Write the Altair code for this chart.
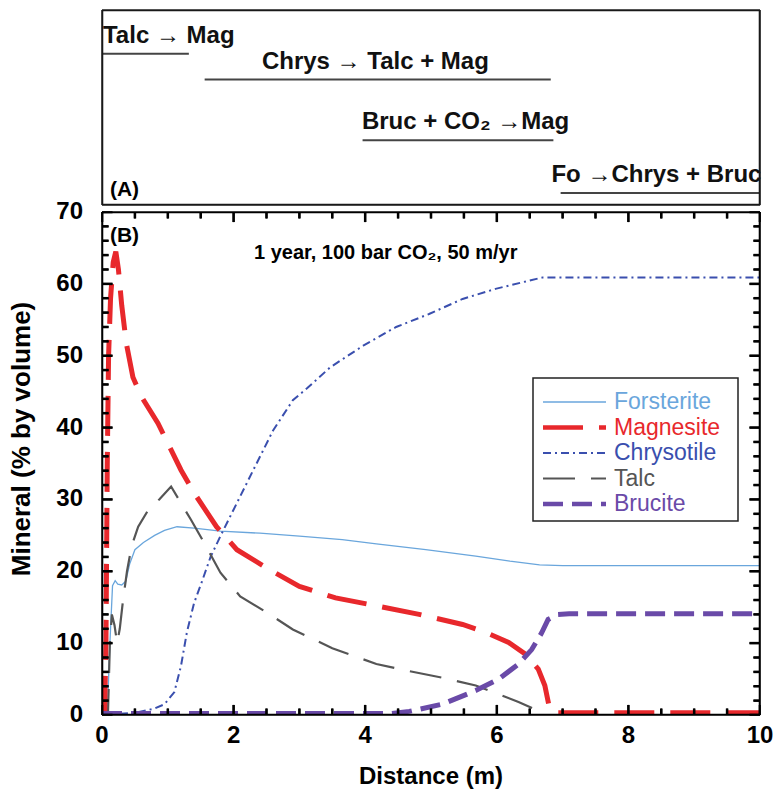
import altair as alt
import pandas as pd
import numpy as np

FONT = "Liberation Sans"

# ---------------- data: panel (B) ----------------
series_names = ["Forsterite", "Magnesite", "Chrysotile", "Talc", "Brucite"]

forsterite_x = [0, 0.08, 0.12, 0.16, 0.2, 0.24, 0.3, 0.36, 0.42, 0.5, 0.63, 0.8, 0.95, 1.14, 1.4,
                1.8, 2.4, 3.0, 3.65, 4.17, 4.92, 5.68, 6.2, 6.65, 7.0, 10]
forsterite_y = [0, 0, 10, 18, 18.7, 18.2, 18.1, 18.6, 21, 23, 24, 25, 25.7, 26.2, 26.0,
                25.6, 25.3, 24.9, 24.4, 23.8, 23.0, 22.1, 21.4, 20.9, 20.8, 20.8]

magnesite_x = [0, 0.04, 0.06, 0.08, 0.1, 0.13, 0.17, 0.21, 0.25, 0.3, 0.37, 0.47, 0.6, 0.85, 1.05,
               1.2, 1.4, 1.74, 2.05, 2.55, 3.0, 3.55, 4.17, 4.82, 5.48, 5.83, 6.18, 6.43, 6.63,
               6.73, 6.8, 6.85, 10]
magnesite_y = [0, 0.5, 10, 35, 50, 58, 63, 64.5, 62, 57, 51.7, 47, 44.3, 40.6, 36.9,
               34.1, 30.9, 26.2, 23.0, 20.2, 17.9, 16.3, 15.2, 14.0, 12.6, 11.5, 10.1, 8.5, 6.4,
               4.1, 1.0, 0.3, 0.3]

chrysotile_x = [0, 0.5, 0.8, 0.95, 1.1, 1.2, 1.29, 1.4, 1.52, 1.65, 1.8, 2.05, 2.3, 2.6, 2.9,
                3.12, 3.47, 3.97, 4.47, 4.97, 5.48, 5.98, 6.47, 6.7, 10]
chrysotile_y = [0, 0.3, 0.9, 1.5, 3.2, 6.8, 11.5, 15.6, 18.6, 22.0, 24.9, 29.5, 34.1, 39.6, 43.8,
                45.5, 48.4, 51.4, 54.0, 55.8, 57.9, 59.3, 60.4, 60.9, 60.9]

talc_x = [0, 0.09, 0.12, 0.15, 0.19, 0.23, 0.27, 0.32, 0.38, 0.45, 0.55, 0.7, 0.87, 1.05, 1.2,
          1.35, 1.55, 1.8, 2.1, 2.5, 2.9, 3.5, 4.17, 4.67, 5.17, 5.68, 6.03, 6.33, 6.63, 6.75, 10]
talc_y = [0, 0, 10, 14, 12.5, 10, 12, 16, 20, 23.5, 26.2, 28.5, 30, 31.8, 29.5,
          27.2, 24, 19.8, 16.5, 14.3, 11.9, 9.3, 7.1, 6.1, 5.2, 4.1, 2.9, 1.8, 0.6, 0, 0]

brucite_x = [0, 4.4, 4.67, 5.17, 5.68, 6.03, 6.33, 6.53, 6.68, 6.78, 6.93, 7.1, 10]
brucite_y = [0.2, 0.2, 0.5, 1.5, 3.4, 5.0, 7.1, 9.1, 11.4, 13.3, 14.0, 14.1, 14.1]

x_tick_values = [0, 0.5, 1, 1.5, 2, 2.5, 3, 3.5, 4, 4.5, 5, 5.5, 6, 6.5, 7, 7.5, 8, 8.5, 9, 9.5, 10]
y_tick_values = [0, 2, 4, 6, 8, 10, 12, 14, 16, 18, 20, 22, 24, 26, 28, 30, 32, 34, 36, 38, 40,
                 42, 44, 46, 48, 50, 52, 54, 56, 58, 60, 62, 64, 66, 68, 70]
x_label_values = [0, 2, 4, 6, 8, 10]
y_label_values = [0, 10, 20, 30, 40, 50, 60, 70]
x_domain = [0, 10]
y_domain = [0, 70]
x_title = "Distance (m)"
y_title = "Mineral (% by volume)"

# ---------------- data: panel (A) ----------------
reaction_labels = ["Talc → Mag", "Chrys → Talc + Mag", "Bruc + CO₂ →Mag", "Fo →Chrys + Bruc"]
reaction_start = [0.0, 1.56, 3.96, 6.97]
reaction_end = [1.32, 6.82, 6.86, 10.0]
reaction_row = [0.776, 0.643, 0.332, 0.061]
reaction_text_x = [0.015, 2.43, 3.95, 6.83]
top_y_domain = [0, 1]

# ---------------- styles ----------------
colors = {"Forsterite": "#6aa6dc", "Magnesite": "#e8282c", "Chrysotile": "#3a4fae",
          "Talc": "#555555", "Brucite": "#6a4aa8"}
widths = {"Forsterite": 1.3, "Magnesite": 5, "Chrysotile": 2, "Talc": 2.2, "Brucite": 5}
dashes = {"Forsterite": None, "Magnesite": [40, 16], "Chrysotile": [8, 4, 2, 4],
          "Talc": [32, 16], "Brucite": [20, 9]}

series_xy = {
    "Forsterite": (forsterite_x, forsterite_y),
    "Magnesite": (magnesite_x, magnesite_y),
    "Chrysotile": (chrysotile_x, chrysotile_y),
    "Talc": (talc_x, talc_y),
    "Brucite": (brucite_x, brucite_y),
}

W, H_TOP, H_BOT = 658, 195, 503


def segment_layers(segs, xscale, yscale, color, width):
    """segs: list of (x0, y0, x1, y1) in data units -> clipped line segments + rules."""
    long_rows, wide_rows = [], []
    for j, (x0, y0, x1, y1) in enumerate(segs):
        long_rows.append({"seg": j, "k": 0, "x": x0, "y": y0})
        long_rows.append({"seg": j, "k": 1, "x": x1, "y": y1})
        wide_rows.append({"x": x0, "xe": x1, "y": y0, "ye": y1})
    lines = alt.Chart(pd.DataFrame(long_rows)).mark_line(
        color=color, strokeWidth=width * 1.6, clip=True).encode(
        x=alt.X("x:Q", scale=xscale, axis=None), y=alt.Y("y:Q", scale=yscale, axis=None),
        detail="seg:N", order="k:Q")
    rules = alt.Chart(pd.DataFrame(wide_rows)).mark_rule(color=color, strokeWidth=width).encode(
        x=alt.X("x:Q", scale=xscale, axis=None), x2="xe:Q",
        y=alt.Y("y:Q", scale=yscale, axis=None), y2="ye:Q")
    return [lines, rules]


xs = alt.Scale(domain=x_domain, nice=False, zero=False)
ys = alt.Scale(domain=y_domain, nice=False)
X = lambda f: alt.X(f, scale=xs, axis=None)
Y = lambda f: alt.Y(f, scale=ys, axis=None)

# ---- frame + inward ticks ----
xa, xb = x_domain
ya, yb = y_domain
segs = [(xa, ya, xb, ya), (xa, yb, xb, yb), (xa, ya, xa, yb), (xb, ya, xb, yb)]
for v in x_tick_values:
    ln = 1.4 if v % 2 == 0 else 0.9
    segs.append((v, ya, v, ya + ln))
    segs.append((v, yb, v, yb - ln))
for v in y_tick_values:
    ln = 0.16 if v % 10 == 0 else 0.1
    segs.append((xa, v, xa + ln, v))
    segs.append((xb, v, xb - ln, v))
frame_layers = segment_layers(segs, xs, ys, "black", 1.6)

# ---- axis labels and titles as text ----
xl_df = pd.DataFrame({"v": x_label_values, "lab": [str(v) for v in x_label_values]})
yl_df = pd.DataFrame({"v": y_label_values, "lab": [str(v) for v in y_label_values]})
x_labels = alt.Chart(xl_df).mark_text(align="center", baseline="top", dy=9, font=FONT,
                                      fontSize=24, fontWeight="bold", color="black").encode(
    x=X("v:Q"), y=alt.Y(datum=y_domain[0], scale=ys, axis=None), text="lab:N")
y_labels = alt.Chart(yl_df).mark_text(align="right", baseline="middle", dx=-19, font=FONT,
                                      fontSize=24, fontWeight="bold", color="black").encode(
    y=Y("v:Q"), x=alt.X(datum=x_domain[0], scale=xs, axis=None), text="lab:N")
x_title_layer = alt.Chart(pd.DataFrame({"t": [x_title]})).mark_text(
    align="center", baseline="top", font=FONT, fontSize=24, fontWeight="bold", color="black").encode(
    x=alt.value(W / 2), y=alt.value(H_BOT + 50), text="t:N")
y_title_layer = alt.Chart(pd.DataFrame({"t": [y_title]})).mark_text(
    align="center", baseline="middle", angle=270, font=FONT, fontSize=26, fontWeight="bold",
    color="black").encode(x=alt.value(-80), y=alt.value(227), text="t:N")

# ---- series lines ----
draw_order = ["Forsterite", "Chrysotile", "Talc", "Magnesite", "Brucite"]
line_layers = []
for n in draw_order:
    sx, sy = series_xy[n]
    d = pd.DataFrame({"x": sx, "y": sy, "name": n, "i": range(len(sx))})
    mk = dict(color=colors[n], strokeWidth=widths[n], clip=True)
    if dashes[n] is not None:
        mk["strokeDash"] = dashes[n]
    line_layers.append(
        alt.Chart(d).mark_line(**mk).encode(x=X("x:Q"), y=Y("y:Q"), order="i:Q"))

# ---- annotations ----
ann = pd.DataFrame({"t": ["(B)", "1 year, 100 bar CO₂, 50 m/yr"], "x": [0.12, 2.31],
                    "y": [66.7, 64.3], "fs": [21, 20]})
ann_layer = alt.Chart(ann).mark_text(align="left", baseline="middle", font=FONT,
                                     fontWeight="bold", color="black").encode(
    x=X("x:Q"), y=Y("y:Q"), text="t:N", size=alt.Size("fs:Q", scale=None, legend=None))

# ---- legend (custom) ----
LEG_X0, LEG_X1, LEG_Y0, LEG_Y1 = 431, 636, 166, 309
SYM_X0, SYM_X1, LAB_X, ROW0, ROW_STEP = 441, 504, 512, 190, 25.5
legend_layers = [
    alt.Chart(pd.DataFrame({"k": [0]})).mark_rect(fill="white", stroke="#222", strokeWidth=1.5).encode(
        x=alt.value(LEG_X0), x2=alt.value(LEG_X1), y=alt.value(LEG_Y0), y2=alt.value(LEG_Y1))
]
for i, n in enumerate(series_names):
    yy = ROW0 + ROW_STEP * i
    d = pd.DataFrame({"name": [n]})
    mk = dict(color=colors[n], strokeWidth=widths[n] if widths[n] < 4 else 4.5)
    if dashes[n] is not None:
        mk["strokeDash"] = dashes[n]
    legend_layers.append(alt.Chart(d).mark_rule(**mk).encode(
        x=alt.value(SYM_X0), x2=alt.value(SYM_X1), y=alt.value(yy)))
    legend_layers.append(alt.Chart(d).mark_text(align="left", baseline="middle", font=FONT,
                                                fontSize=23, color=colors[n]).encode(
        x=alt.value(LAB_X), y=alt.value(yy), text="name:N"))

bottom = alt.layer(*line_layers, *frame_layers, x_labels, y_labels, x_title_layer, y_title_layer,
                   ann_layer, *legend_layers).properties(width=W, height=H_BOT)

# ---------------- panel (A) ----------------
top_df = pd.DataFrame({"label": reaction_labels, "start": reaction_start, "end": reaction_end,
                       "row": reaction_row, "tx": reaction_text_x})
txs = alt.Scale(domain=x_domain, nice=False, zero=False)
tys = alt.Scale(domain=top_y_domain, nice=False)
top_rules = alt.Chart(top_df).mark_rule(color="#444444", strokeWidth=2).encode(
    x=alt.X("start:Q", scale=txs, axis=None), x2="end:Q",
    y=alt.Y("row:Q", scale=tys, axis=None))
top_text = alt.Chart(top_df).mark_text(align="left", baseline="alphabetic", dy=-11, font=FONT,
                                       fontSize=24, fontWeight="bold", color="#111111").encode(
    x=alt.X("tx:Q", scale=txs, axis=None), y=alt.Y("row:Q", scale=tys, axis=None), text="label:N")
top_a = alt.Chart(pd.DataFrame({"t": ["(A)"], "x": [0.12], "y": [0.046]})).mark_text(
    align="left", baseline="alphabetic", font=FONT, fontSize=21, fontWeight="bold",
    color="black").encode(
    x=alt.X("x:Q", scale=txs, axis=None), y=alt.Y("y:Q", scale=tys, axis=None), text="t:N")
ta, tb = top_y_domain
top_frame = segment_layers([(xa, ta, xb, ta), (xa, tb, xb, tb), (xa, ta, xa, tb), (xb, ta, xb, tb)],
                           txs, tys, "#1a1a1a", 1.6)
top = alt.layer(top_rules, top_text, top_a, *top_frame).properties(width=W, height=H_TOP)

chart = alt.vconcat(top, bottom, spacing=7, bounds="flush").resolve_scale(
    x="independent", y="independent").properties(
    padding={"left": 0, "top": 0, "right": 0, "bottom": 0}
).configure(font=FONT)

chart.save("out.html", embed_options={"renderer": "svg", "actions": False})
